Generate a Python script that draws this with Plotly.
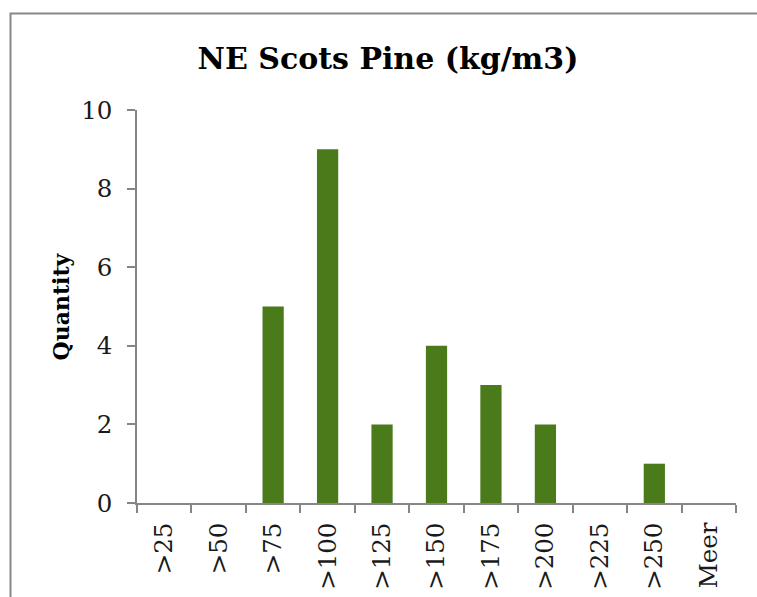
import plotly.graph_objects as go

categories = [">25", ">50", ">75", ">100", ">125", ">150", ">175", ">200", ">225", ">250", "Meer"]
quantities = [0, 0, 5, 9, 2, 4, 3, 2, 0, 1, 0]
y_ticks = [0, 2, 4, 6, 8, 10]

title_text = "NE Scots Pine (kg/m3)"
y_title = "Quantity"

W, H = 757, 597
L, R, T, B = 137, 21, 110, 94
pw, ph = W - L - R, H - T - B

def px_to_paper_x(px):
    return (px - L) / pw

def px_to_paper_y(py):
    return (H - B - py) / ph

FONT = "DejaVu Serif"
AXIS = "#868686"

fig = go.Figure(go.Bar(
    x=categories, y=quantities,
    marker=dict(color="#4a7a19", line=dict(width=0)),
))

fig.update_layout(
    width=W, height=H,
    margin=dict(l=L, r=R, t=T, b=B, autoexpand=False),
    paper_bgcolor="white", plot_bgcolor="white",
    bargap=0.61,
    showlegend=False,
    font=dict(family=FONT, size=24, color="#1a1a1a"),
    title=dict(text="<b>" + title_text + "</b>", x=388 / W, xanchor="center",
               y=1 - 58 / H, yanchor="middle", yref="container",
               font=dict(family=FONT, size=30, color="black")),
)

fig.update_xaxes(
    type="category", tickangle=-90, tickson="boundaries",
    ticks="outside", ticklen=8, tickwidth=1.5, tickcolor=AXIS,
    showline=True, linecolor=AXIS, linewidth=1.5,
    showgrid=False, zeroline=False, automargin=False,
    tickfont=dict(family=FONT, size=24.5, color="#1a1a1a"),
    ticklabelstandoff=8,
)
fig.update_yaxes(
    range=[0, 10], tickvals=y_ticks,
    ticks="outside", ticklen=8, tickwidth=1.5, tickcolor=AXIS,
    showline=True, linecolor=AXIS, linewidth=1.5,
    showgrid=False, zeroline=False, automargin=False,
    tickfont=dict(family=FONT, size=24.5, color="#1a1a1a"),
    ticklabelstandoff=10,
)

fig.add_annotation(
    text="<b>" + y_title + "</b>", textangle=-90,
    xref="paper", yref="paper",
    x=px_to_paper_x(60), y=0.5, xanchor="center", yanchor="middle",
    showarrow=False, font=dict(family=FONT, size=22, color="black"),
)

fig.add_shape(
    type="rect", xref="paper", yref="paper",
    x0=px_to_paper_x(10.5), x1=px_to_paper_x(770),
    y0=px_to_paper_y(620), y1=px_to_paper_y(13.5),
    line=dict(color="#878787", width=2), fillcolor="rgba(0,0,0,0)",
    layer="below",
)

fig.write_html("out.html")
